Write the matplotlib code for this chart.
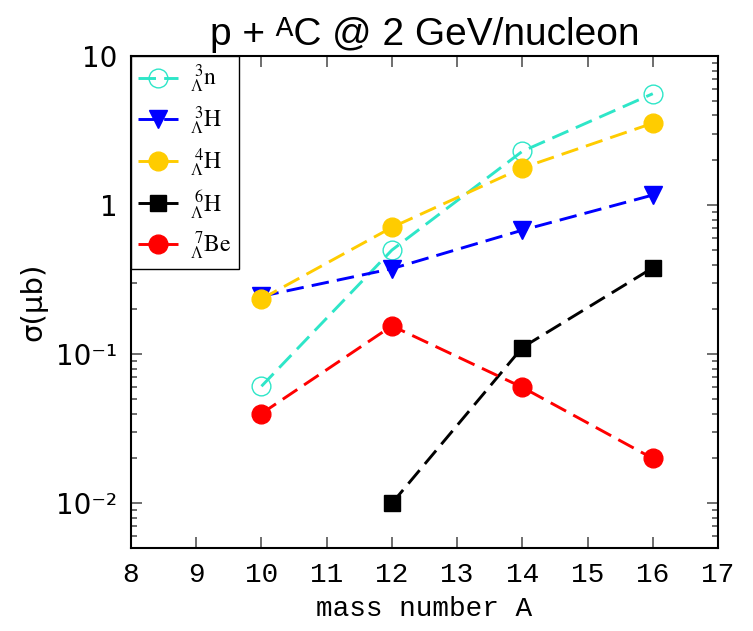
import matplotlib
matplotlib.use('Agg')
import matplotlib.pyplot as plt
from matplotlib.ticker import LogLocator, FixedLocator, NullFormatter

plt.rcParams['mathtext.fontset'] = 'stix'

# data
mass_A = [10, 12, 14, 16]
n3_L = [0.061, 0.50, 2.3, 5.6]
H3_L = [0.245, 0.375, 0.68, 1.17]
H4_L = [0.235, 0.71, 1.78, 3.55]
A_6H = [12, 14, 16]
H6_L = [0.010, 0.111, 0.38]
Be7_L = [0.040, 0.155, 0.060, 0.020]

labels = [r'$^{\ 3}_{\Lambda}\mathrm{n}$', r'$^{\ 3}_{\Lambda}\mathrm{H}$',
          r'$^{\ 4}_{\Lambda}\mathrm{H}$', r'$^{\ 6}_{\Lambda}\mathrm{H}$',
          r'$^{\ 7}_{\Lambda}\mathrm{Be}$']
x_ticks = list(range(8, 18))
y_ticks = [0.01, 0.1, 1, 10]
y_ticklabels = ['10⁻²', '10⁻¹', '1', '10']

fig = plt.figure(figsize=(7.53, 6.31), dpi=100)
ax = fig.add_axes([0.174, 0.1315, 0.7795, 0.7795])

dash = (6, 2.8)
lw = 2.1
ax.plot(mass_A, n3_L, color='#2ee6c8', lw=lw, dashes=dash, marker='o', ms=13.5,
        mfc='none', mec='#2ee6c8', mew=1.0, label=labels[0])
ax.plot(mass_A, H3_L, color='#0000ff', lw=lw, dashes=dash, marker='v', ms=13.5,
        label=labels[1])
ax.plot(mass_A, H4_L, color='#ffcc00', lw=lw, dashes=dash, marker='o', ms=13.5,
        label=labels[2])
ax.plot(A_6H, H6_L, color='black', lw=lw, dashes=dash, marker='s', ms=12,
        label=labels[3])
ax.plot(mass_A, Be7_L, color='#ff0000', lw=lw, dashes=dash, marker='o', ms=13.5,
        label=labels[4])

ax.set_yscale('log')
ax.set_ylim(10 ** -2.3, 10)
ax.set_xlim(8, 17)
ax.xaxis.set_major_locator(FixedLocator(x_ticks))
ax.set_xticklabels([str(v) for v in x_ticks], family='Liberation Mono', fontsize=20)
ax.yaxis.set_minor_locator(LogLocator(base=10, subs=range(2, 10)))
ax.yaxis.set_minor_formatter(NullFormatter())
ax.set_yticks(y_ticks)
ax.set_yticklabels(y_ticklabels, family='DejaVu Sans', fontsize=20)

ax.tick_params(which='both', direction='in', top=True, right=True, color='#555555')
ax.tick_params(which='major', length=8, width=1.2, pad=10)
ax.tick_params(which='minor', length=4, width=1.2)
for s in ax.spines.values():
    s.set_linewidth(1.5)

ax.set_xlabel('mass number A', family='Liberation Mono', fontsize=20, labelpad=6)
ax.set_ylabel('σ(μb)', family='DejaVu Sans', fontsize=21, labelpad=6)
ax.set_title('p + ᴬC @ 2 GeV/nucleon', family=['Liberation Sans', 'DejaVu Sans'],
             fontsize=28, pad=8)

leg = ax.legend(loc='upper left', borderaxespad=0, fancybox=False, framealpha=1,
                edgecolor='black', numpoints=1, handlelength=1.7,
                prop={'family': 'Liberation Serif', 'size': 17},
                labelspacing=0.40, borderpad=0.3, handletextpad=0.5)
leg.get_frame().set_linewidth(1.0)

fig.savefig('out.png', dpi=100)
